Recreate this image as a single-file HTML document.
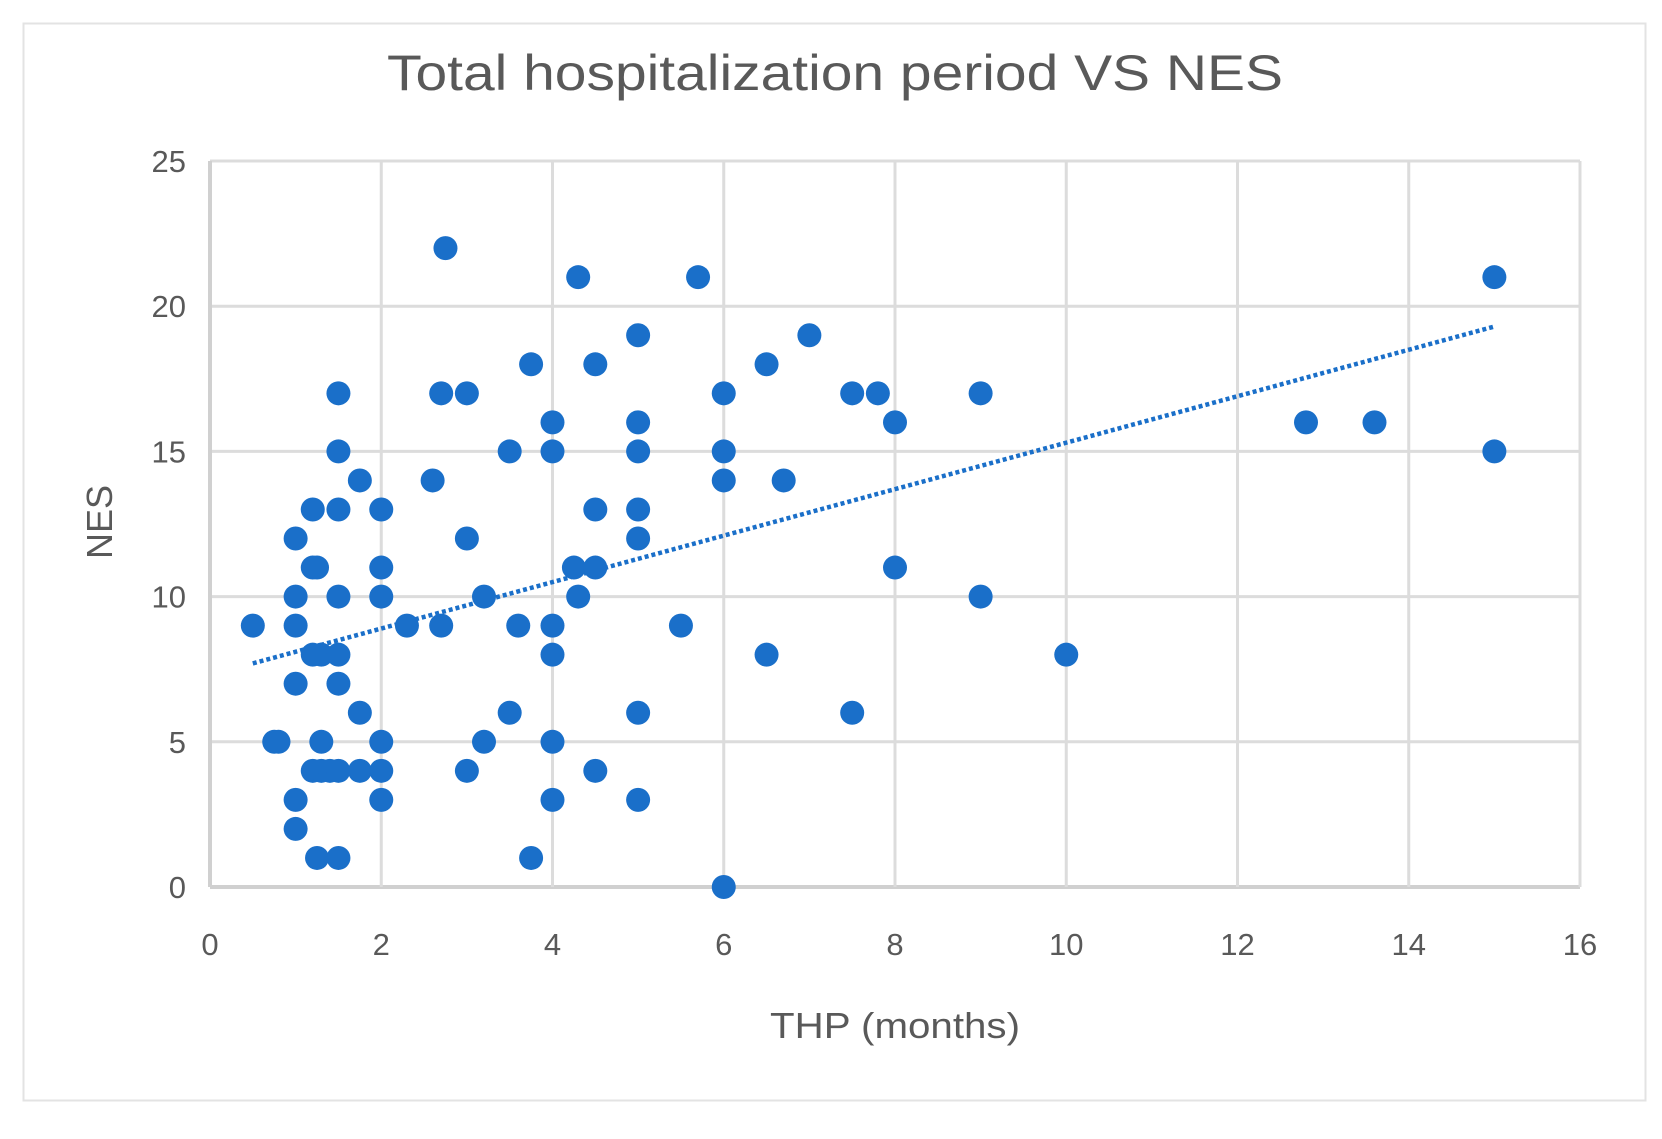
<!DOCTYPE html>
<html><head><meta charset="utf-8">
<style>
html,body{margin:0;padding:0;background:#fff;}
svg{display:block;}
text{font-family:"Liberation Sans",sans-serif;fill:#595959;}
</style></head>
<body>
<svg id="chart" width="1662" height="1139" viewBox="0 0 1662 1139" xmlns="http://www.w3.org/2000/svg">
<rect x="23.5" y="23.5" width="1622" height="1077" fill="#fff" stroke="#e3e3e3" stroke-width="2"/>
<text x="835" y="90" font-size="50" text-anchor="middle" textLength="896" lengthAdjust="spacingAndGlyphs">Total hospitalization period VS NES</text>
<g id="grid"></g>
<g id="ticks"></g>
<g id="trend"></g>
<g id="points"></g>
<text x="895" y="1038" font-size="36" text-anchor="middle" textLength="250" lengthAdjust="spacingAndGlyphs">THP (months)</text>
<text x="0" y="0" font-size="36" text-anchor="middle" transform="translate(112,522) rotate(-90)">NES</text>
</svg>
<script>
const xTicks=[0,2,4,6,8,10,12,14,16];
const yTicks=[0,5,10,15,20,25];
const xs=[0.5,0.75,0.8,1,1,1,1,1,1,1.2,1.2,1.25,1.2,1.3,1.3,1.2,1.3,1.4,1.5,1.25,1.5,1.5,1.5,1.5,1.5,1.5,1.5,1.75,1.75,1.75,2,2,2,2,2,2,2.3,2.6,2.7,2.7,2.75,3,3,3,3.2,3.2,3.5,3.5,3.6,3.75,3.75,4,4,4,4,4,4,4.25,4.3,4.3,4.5,4.5,4.5,4.5,5,5,5,5,5,5,5,5.5,5.7,6,6,6,6,6.5,6.5,6.7,7,7.5,7.5,7.8,8,8,9,9,10,12.8,13.6,15,15];
const ys=[9,5,5,12,10,9,7,3,2,13,11,11,8,8,5,4,4,4,4,1,1,17,15,13,10,8,7,14,6,4,13,11,10,5,4,3,9,14,17,9,22,17,12,4,10,5,15,6,9,18,1,16,15,9,8,5,3,11,10,21,18,13,11,4,19,16,15,13,12,6,3,9,21,17,15,14,0,18,8,14,19,17,6,17,16,11,17,10,8,16,16,21,15];
const trendStart=[0.5,7.7];
const trendEnd=[15,19.3];

const X0=210,X1=1580,Y0=887,Y1=161;
const sx=v=>X0+(v-0)/(16-0)*(X1-X0);
const sy=v=>Y0-(v-0)/(25-0)*(Y0-Y1);
const NS="http://www.w3.org/2000/svg";
function mk(tag,attrs,parent){const e=document.createElementNS(NS,tag);for(const k in attrs)e.setAttribute(k,attrs[k]);parent.appendChild(e);return e;}
const grid=document.getElementById('grid'),ticks=document.getElementById('ticks');
yTicks.forEach(t=>{
  const l=mk('line',{x1:X0,x2:X1,y1:sy(t),y2:sy(t),stroke:t===0?'#d0d0d0':'#dcdcdc','stroke-width':t===0?4:3},grid);
  
  
  const tx=mk('text',{x:186,y:sy(t)+11,'font-size':31,'text-anchor':'end'},ticks);
  tx.textContent=t;
  
  
});
xTicks.forEach(t=>{
  const l=mk('line',{x1:sx(t),x2:sx(t),y1:Y1,y2:Y0,stroke:t===0?'#d0d0d0':'#dcdcdc','stroke-width':t===0?4:3},grid);
  
  
  const tx=mk('text',{x:sx(t),y:955,'font-size':31,'text-anchor':'middle'},ticks);
  tx.textContent=t;
  
  
});
const tl=mk('line',{x1:sx(trendStart[0]),y1:sy(trendStart[1]),x2:sx(trendEnd[0]),y2:sy(trendEnd[1]),stroke:'#1a6fc9','stroke-width':4.5,'stroke-dasharray':'4 3'},document.getElementById('trend'));


const pg=document.getElementById('points');
xs.forEach((x,i)=>{
  const c=mk('circle',{cx:sx(x),cy:sy(ys[i]),r:12,fill:'#1a6fc9'},pg);
  
  
});
</script>
</body></html>
